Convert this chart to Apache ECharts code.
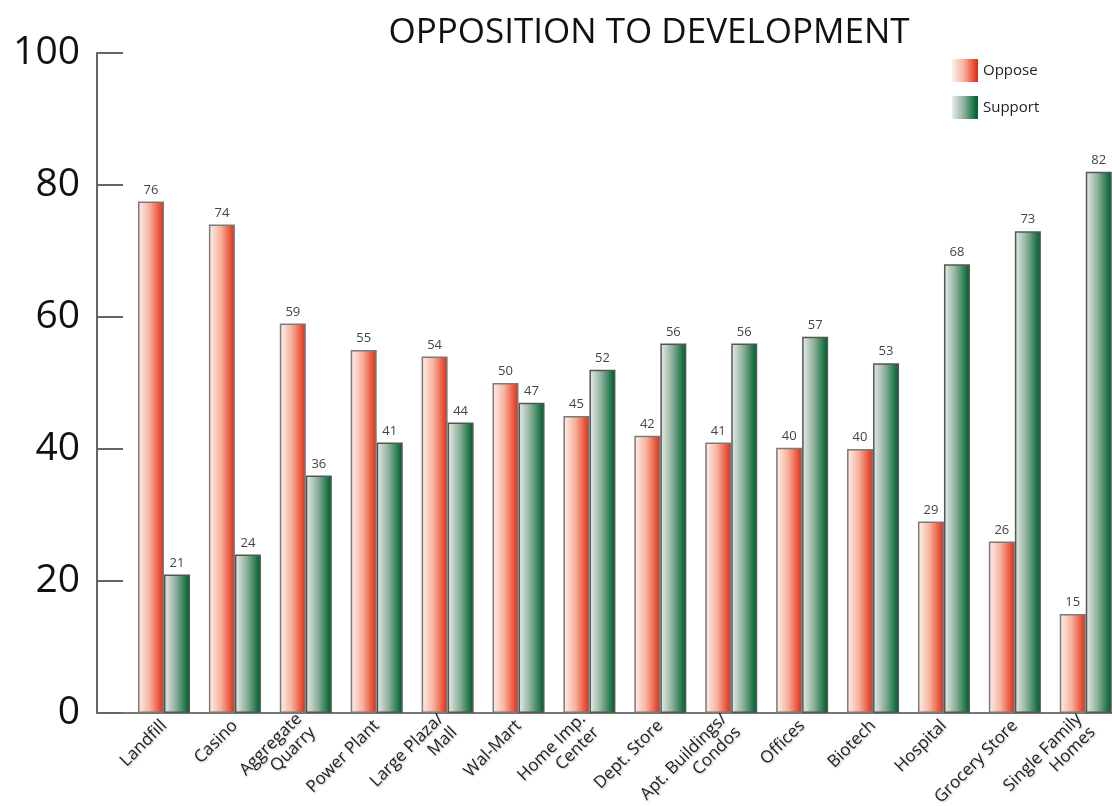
<!DOCTYPE html>
<html>
<head>
<meta charset="utf-8">
<script src="https://cdn.jsdelivr.net/npm/echarts@6/dist/echarts.min.js"></script>
<style>
html,body{margin:0;padding:0;background:#fff;}
#chart{width:1112px;height:806px;}
</style>
</head>
<body>
<div id="chart"></div>
<script>
const categories = ['Landfill', 'Casino', 'Aggregate\nQuarry', 'Power Plant', 'Large Plaza/\nMall', 'Wal-Mart', 'Home Imp.\nCenter', 'Dept. Store', 'Apt. Buildings/\nCondos', 'Offices', 'Biotech', 'Hospital', 'Grocery Store', 'Single Family\nHomes'];
const opposeValues = [77.5, 74, 59, 55, 54, 50, 45, 42, 41, 40.2, 40, 29, 26, 15];
const opposeLabels = [76, 74, 59, 55, 54, 50, 45, 42, 41, 40, 40, 29, 26, 15];
const supportValues = [21, 24, 36, 41, 44, 47, 52, 56, 56, 57, 53, 68, 73, 82];
const supportLabels = [21, 24, 36, 41, 44, 47, 52, 56, 56, 57, 53, 68, 73, 82];
const yTicks = [0, 20, 40, 60, 80, 100];

const FONT = '"Open Sans", "DejaVu Sans", sans-serif';
const opposeGrad = {type:'linear', x:0, y:0, x2:1, y2:0, colorStops:[
  {offset:0, color:'#fdf1ec'}, {offset:0.45, color:'#f7b29e'}, {offset:0.88, color:'#e8452c'}, {offset:1, color:'#c7311d'}]};
const supportGrad = {type:'linear', x:0, y:0, x2:1, y2:0, colorStops:[
  {offset:0, color:'#e9eeea'}, {offset:0.45, color:'#8fb09c'}, {offset:0.88, color:'#11703f'}, {offset:1, color:'#0a5a31'}]};

const chart = echarts.init(document.getElementById('chart'), null, {renderer:'canvas'});
const idx = categories.map((c, i) => i);
chart.setOption({
  animation: false,
  backgroundColor: '#fff',
  title: {
    text: 'OPPOSITION TO DEVELOPMENT', left: 644, top: 11, textAlign: 'center',
    textStyle: {fontFamily: FONT, fontSize: 35, fontWeight: 'normal', color: '#111'}
  },
  legend: {
    orient: 'vertical', left: 947, top: 54, itemWidth: 26, itemHeight: 23, itemGap: 14,
    icon: 'rect',
    itemStyle: {borderWidth: 0},
    textStyle: {fontFamily: FONT, fontSize: 15, color: '#222', padding: [0,0,0,0]},
    data: ['Oppose', 'Support']
  },
  grid: {left: 97, right: 0, top: 53, bottom: 93, containLabel: false, outerBoundsMode: 'none'},
  xAxis: {
    type: 'value', min: -0.945, max: 13.37,
    axisLine: {show: true, onZero: false, lineStyle: {color: '#777', width: 2}},
    axisTick: {show: false},
    splitLine: {show: false},
    axisLabel: {
      customValues: idx, rotate: 45, margin: 10,
      formatter: v => categories[Math.round(v)] || '',
      fontFamily: FONT, fontSize: 17, color: '#222', lineHeight: 19,
      textShadowColor: 'rgba(0,0,0,0.25)', textShadowBlur: 2, textShadowOffsetX: 1, textShadowOffsetY: 1
    }
  },
  yAxis: {
    type: 'value', min: 0, max: 100, interval: 20,
    axisLine: {show: true, onZero: false, lineStyle: {color: '#666', width: 2}},
    axisTick: {show: true, inside: true, length: 26, lineStyle: {color: '#666', width: 2}},
    splitLine: {show: false},
    axisLabel: {fontFamily: FONT, fontSize: 39, color: '#111', margin: 17}
  },
  series: [
    {
      name: 'Oppose', type: 'bar', barWidth: 26, barGap: '0%',
      data: opposeValues.map((v, i) => [i, v]),
      itemStyle: {color: opposeGrad, borderColor: '#7a7a7a', borderWidth: 1.5},
      label: {show: true, position: 'top', distance: 5, fontFamily: FONT, fontSize: 13, color: '#444',
        formatter: p => String(opposeLabels[p.dataIndex])}
    },
    {
      name: 'Support', type: 'bar', barWidth: 26, barGap: '0%',
      data: supportValues.map((v, i) => [i, v]),
      itemStyle: {color: supportGrad, borderColor: '#555', borderWidth: 1.5},
      label: {show: true, position: 'top', distance: 5, fontFamily: FONT, fontSize: 13, color: '#444',
        formatter: p => String(supportLabels[p.dataIndex])}
    }
  ]
});
</script>
</body>
</html>
